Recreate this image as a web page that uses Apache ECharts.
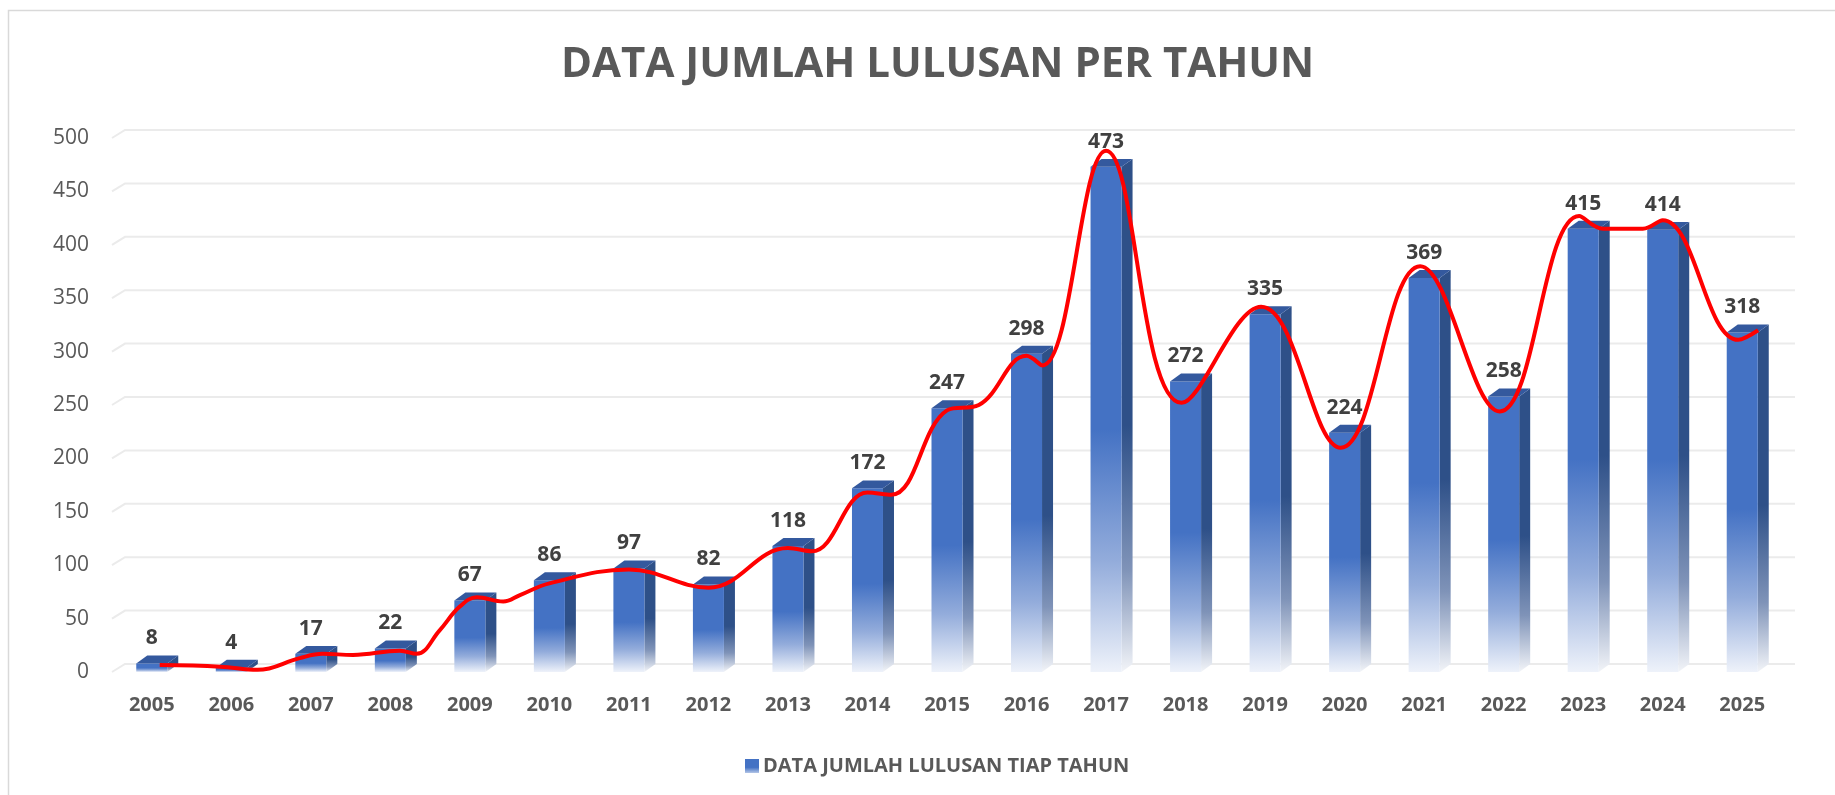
<!DOCTYPE html>
<html>
<head>
<meta charset="utf-8">
<script src="https://cdn.jsdelivr.net/npm/echarts@6/dist/echarts.min.js"></script>
<style>
html,body{margin:0;padding:0;background:#fff;}
#chart{width:1835px;height:795px;}
</style>
</head>
<body>
<div id="chart"></div>
<script>
const years = ['2005','2006','2007','2008','2009','2010','2011','2012','2013','2014','2015','2016','2017','2018','2019','2020','2021','2022','2023','2024','2025'];
const graduates = [8,4,17,22,67,86,97,82,118,172,247,298,473,272,335,224,369,258,415,414,318];
// red curve: position along the year axis (0 = 2005) and value
const redLineX = [0.1,0.86,1.33,1.86,2.15,2.53,3.12,3.33,3.62,3.87,4.09,4.42,4.63,5.0,6.0,7.0,8.0,8.3,9.0,9.3,10.0,10.4,11.0,11.2,12.0,12.95,13.95,14.95,15.95,16.95,17.95,18.25,18.75,19.0,19.95,20.2];
const redLineY = [6.5,5,2,13,17,16,20,17,39,61,70,66,72,83,96,79,116,113,168,166,245,250,296,287,488,252,342,210,380,244,427,415,415,423,311,320];
const yTicks = [0,50,100,150,200,250,300,350,400,450,500];

const FONT = "'Open Sans', 'Noto Sans', sans-serif";
const seriesName = 'DATA JUMLAH LULUSAN TIAP TAHUN';

const chart = echarts.init(document.getElementById('chart'), null, {renderer: 'canvas'});

function frontGrad() {
  return new echarts.graphic.LinearGradient(0, 0, 0, 1, [
    {offset: 0, color: '#4472C4'},
    {offset: 0.52, color: '#4472C4'},
    {offset: 0.78, color: '#93ACDB'},
    {offset: 1, color: '#EEF2FA'}
  ]);
}
function sideGrad() {
  return new echarts.graphic.LinearGradient(0, 0, 0, 1, [
    {offset: 0, color: '#2E5088'},
    {offset: 0.52, color: '#2E5088'},
    {offset: 0.8, color: '#7F93B8'},
    {offset: 1, color: '#F2F4F8'}
  ]);
}

function renderBar(params, api) {
  const idx = api.value(0);
  const v = api.value(1);
  const top = api.coord([idx, v]);
  const base = api.coord([idx, 0]);
  const bw = api.size([1, 0])[0] * 0.39;
  const dx = bw * 0.355;
  const dy = dx * 0.72;
  const xl = top[0] - bw / 2, xr = top[0] + bw / 2;
  const h = Math.max(base[1] - top[1], 0.5);
  return {
    type: 'group',
    children: [
      {type: 'polygon', shape: {points: [[xr, top[1]], [xr + dx, top[1] - dy], [xr + dx, base[1] - dy], [xr, base[1]]]},
        style: {fill: sideGrad()}},
      {type: 'rect', shape: {x: xl, y: top[1], width: bw, height: h},
        style: {fill: frontGrad()}},
      {type: 'polygon', shape: {points: [[xl, top[1]], [xl + dx, top[1] - dy], [xr + dx, top[1] - dy], [xr, top[1]]]},
        style: {fill: '#34599E'}},
      {type: 'text', x: top[0], y: top[1] - 25,
        style: {text: String(v), fill: '#404040', font: 'bold 21px ' + FONT, align: 'center', verticalAlign: 'middle'}}
    ]
  };
}

function renderGridLine(params, api) {
  const v = api.value(1);
  const cs = params.coordSys;
  const y = api.coord([0, v])[1];
  return {
    type: 'polyline',
    shape: {points: [[cs.x, y], [cs.x + 13, y - 8], [cs.x + cs.width + 13, y - 8]]},
    style: {stroke: '#EBEBEB', lineWidth: 2, fill: null}
  };
}

const option = {
  backgroundColor: '#ffffff',
  animation: false,
  title: {
    text: 'DATA JUMLAH LULUSAN PER TAHUN',
    left: 556,
    top: 39,
    textStyle: {fontFamily: FONT, fontSize: 42, fontWeight: 'bold', color: '#595959'}
  },
  legend: {
    data: [seriesName],
    left: 740,
    top: 751,
    icon: 'rect',
    itemWidth: 14,
    itemHeight: 14,
    itemGap: 10,
    textStyle: {fontFamily: FONT, fontSize: 20, fontWeight: 'bold', color: '#595959', padding: [0, 0, 0, -1]}
  },
  grid: {left: 112, right: 53, top: 138, bottom: 123, containLabel: false},
  xAxis: [{
    type: 'category',
    data: years,
    axisLine: {show: false},
    axisTick: {show: false},
    axisLabel: {fontFamily: FONT, fontSize: 20, fontWeight: 'bold', color: '#595959', margin: 23},
    splitLine: {show: false}
  }, {
    type: 'value',
    min: -0.5,
    max: 20.5,
    show: false,
    splitLine: {show: false}
  }],
  yAxis: {
    type: 'value',
    min: 0,
    max: 500,
    interval: 50,
    axisLine: {show: false},
    axisTick: {show: false},
    splitLine: {show: false},
    axisLabel: {fontFamily: FONT, fontSize: 21, color: '#595959', margin: 23}
  },
  graphic: [
    {type: 'polyline', shape: {points: [[8.5, 800], [8.5, 10.5], [1840, 10.5]]},
      style: {stroke: '#D9D9D9', lineWidth: 1.5, fill: null}, silent: true}
  ],
  series: [
    {
      type: 'custom',
      name: 'grid',
      renderItem: renderGridLine,
      data: yTicks.map(v => [0, v]),
      encode: {x: 0, y: 1},
      z: 0,
      silent: true,
      clip: false
    },
    {
      type: 'custom',
      name: seriesName,
      renderItem: renderBar,
      data: graduates.map((v, i) => [i, v]),
      encode: {x: 0, y: 1},
      itemStyle: {color: new echarts.graphic.LinearGradient(0, 0, 0, 1, [
        {offset: 0, color: '#4472C4'}, {offset: 0.6, color: '#4472C4'}, {offset: 1, color: '#B4C6E7'}])},
      z: 2,
      clip: false
    },
    {
      type: 'line',
      name: 'trend',
      xAxisIndex: 1,
      data: redLineX.map((x, i) => [x, redLineY[i]]),
      smooth: 0.4,
      showSymbol: false,
      symbol: 'none',
      lineStyle: {color: '#FF0000', width: 4},
      z: 5
    }
  ]
};
chart.setOption(option);
</script>
</body>
</html>
